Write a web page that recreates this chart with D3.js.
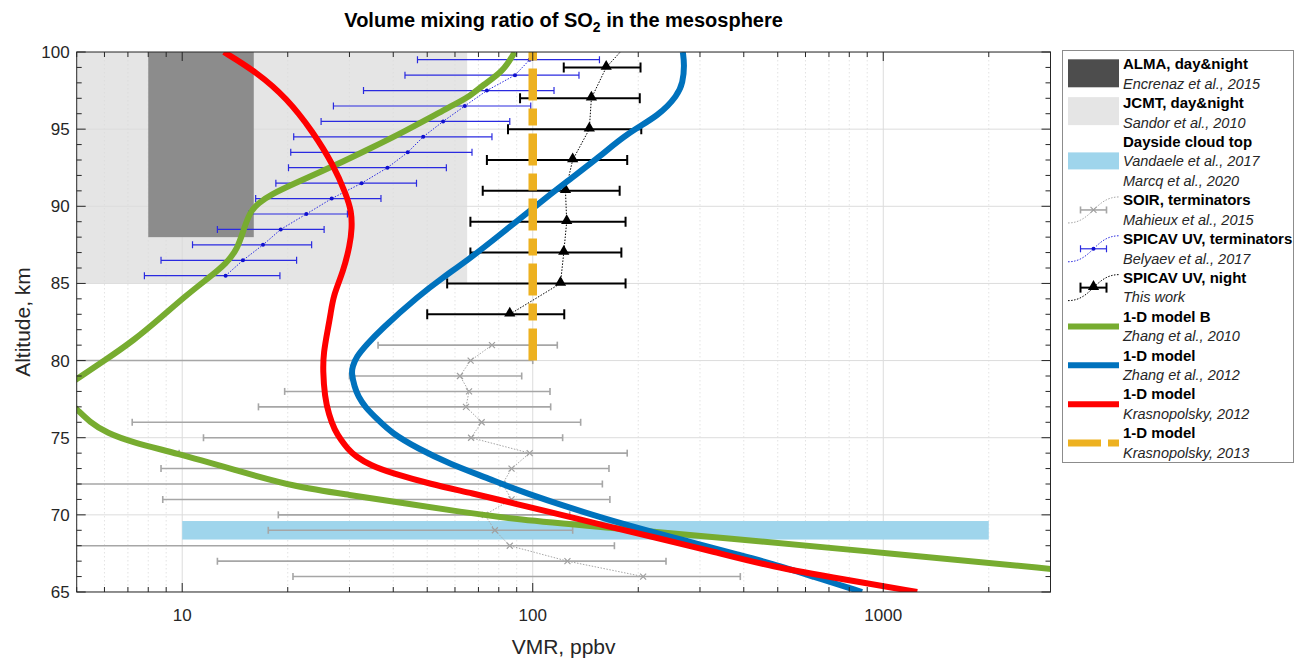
<!DOCTYPE html>
<html><head><meta charset="utf-8">
<script src="https://cdn.jsdelivr.net/npm/d3@7"></script>
<style>body{margin:0;background:#fff}svg{font-family:"Liberation Sans",Arial,Helvetica,sans-serif}</style>
</head><body><svg id="c" width="1303" height="659"></svg>
<script>
// ---------- data ----------
const xTicks = [10, 100, 1000];
const yTicks = [65, 70, 75, 80, 85, 90, 95, 100];

// SPICAV UV night (this work)
const nightAlt = [83, 85, 87, 89, 91, 93, 95, 97, 99, 101];
const nightVmr = [86, 120, 122.6, 125, 124, 130, 145, 147, 162, 195];
const nightLo  = [50, 57, 66.4, 66.4, 72, 74, 85, 92, 122.6, 150];
const nightHi  = [123, 184, 179, 184, 177, 186, 204, 202, 203, 260];

// SPICAV UV terminators (Belyaev et al., 2017)
const termAlt = [85.5, 86.5, 87.5, 88.5, 89.5, 90.5, 91.5, 92.5, 93.5, 94.5, 95.5, 96.5, 97.5, 98.5, 99.5];
const termVmr = [13.3, 14.9, 17.0, 19.1, 22.6, 26.7, 32.5, 38.5, 44, 48.7, 55.5, 64, 74, 89, 98];
const termLo  = [7.8, 8.7, 10.7, 12.6, 15.5, 16.2, 18.5, 20.1, 20.4, 20.8, 24.9, 27, 32.9, 43.2, 46.9];
const termHi  = [19.0, 21.2, 23.4, 25.4, 29.6, 36.9, 46.6, 56.7, 67.1, 76.5, 86, 98.7, 115, 135.5, 155];

// SOIR terminators (Mahieux et al., 2015)
const soirAlt = [66, 67, 68, 69, 70, 71, 72, 73, 74, 75, 76, 77, 78, 79, 80, 81];
const soirVmr = [206.5, 125.6, 86, 78, 73, 87, 82, 87, 98, 66.7, 71.5, 64.5, 65.8, 62, 66.5, 76.5];
const soirLo  = [20.7, 12.6, 3, 17.6, 18.8, 8.8, 3, 8.7, 9.8, 11.5, 7.2, 16.5, 19.6, 30, 3, 36.2];
const soirHi  = [391, 240, 171, 130, 127.5, 166, 158, 165, 186, 121.7, 137, 112.5, 112, 93, 100, 117.5];

// 1-D model B (Zhang et al., 2010)
const zh10Alt = [66.0, 66.5, 67.5, 68.5, 69.2, 69.7, 70.2, 70.75, 71.3, 71.8, 72.9, 74.0, 74.7, 75.3, 76.0, 76.86, 77.5, 77.9, 78.3, 78.8, 80.0, 81.3, 82.8, 84.25, 85.3, 86.3, 87.3, 88.35, 89.65, 90.2, 90.73, 91.5, 92.68, 93.7, 94.8, 96.45, 97.1, 97.86, 98.72, 100];
const zh10Vmr = [5000, 3000, 1050, 350, 160, 90, 62, 43, 30, 21, 14.2, 9.6, 7.2, 6.1, 5.45, 5.0, 4.65, 4.55, 4.65, 5.0, 6.0, 7.27, 8.7, 10.3, 11.8, 13.4, 14.4, 14.9, 15.6, 16.5, 17.8, 21, 27.5, 34, 42.7, 58, 66, 72, 82.3, 88.9];

// 1-D model (Zhang et al., 2012)
const zh12Alt = [65.0, 66.0, 66.86, 67.4, 68.15, 69.67, 71.6, 72.3, 73.3, 74.3, 75.3, 76.15, 77.0, 77.66, 78.3, 79.18, 79.6, 80.25, 81.0, 81.98, 84.25, 85.33, 86.6, 88.14, 89.87, 91.6, 93.2, 94.7, 95.9, 97.2, 98.0, 99.16, 100];
const zh12Vmr = [870, 630, 478, 388, 292, 162, 90, 76, 58, 47, 39.6, 36.2, 33.2, 31.8, 31.0, 30.4, 30.6, 31.4, 33.5, 36.7, 47.6, 55, 66, 80.5, 100, 125, 155, 185, 230, 259, 268, 271, 268];

// 1-D model (Krasnopolsky, 2012)
const kr12Alt = [65.0, 65.8, 66.65, 67.6, 68.6, 69.3, 70.0, 70.7, 71.4, 72.0, 72.7, 73.2, 73.77, 74.3, 74.85, 75.5, 76.5, 77.66, 79.35, 80.5, 81.98, 83.0, 84.25, 85.76, 87.5, 88.6, 89.65, 90.73, 92.68, 94.83, 97.0, 98.7, 100];
const kr12Vmr = [1250, 780, 477, 330, 218, 160, 121, 90, 67.2, 51, 39.6, 34.5, 31.3, 29.6, 28.4, 27.2, 26.2, 25.5, 25.2, 25.3, 26.0, 26.5, 27, 28.8, 30.1, 30.5, 30.4, 29.4, 27, 23.6, 19.9, 16.3, 13.15];

// 1-D model (Krasnopolsky, 2013)
const kr13Alt = [80, 100];
const kr13Vmr = [100, 100];

// observation ranges: [vmrMin, vmrMax, altMin, altMax]
const jcmtBox = [5, 65, 85, 100];
const almaBox = [8, 16, 88, 100];
const cloudBox = [10, 2000, 68.4, 69.6];

const legendLines = [
  ["ALMA, day&night", true], ["Encrenaz et al., 2015", false],
  ["JCMT, day&night", true], ["Sandor et al., 2010", false],
  ["Dayside cloud top", true], ["Vandaele et al., 2017", false],
  ["Marcq et al., 2020", false],
  ["SOIR, terminators", true], ["Mahieux et al., 2015", false],
  ["SPICAV UV, terminators", true], ["Belyaev et al., 2017", false],
  ["SPICAV UV, night", true], ["This work", false],
  ["1-D model B", true], ["Zhang et al., 2010", false],
  ["1-D model", true], ["Zhang et al., 2012", false],
  ["1-D model", true], ["Krasnopolsky, 2012", false],
  ["1-D model", true], ["Krasnopolsky, 2013", false]
];

// ---------- drawing ----------
const svg = d3.select("#c");
const L = 76.7, R = 1050.5, T = 52, B = 592;
const x = d3.scaleLog().domain([5, 3000]).range([L, R]);
const y = d3.scaleLinear().domain([65, 100]).range([B, T]);

const C = {green:"#77ac30", blue:"#0072bd", red:"#ff0000", orange:"#edb120", cloud:"#9fd5ec",
           jcmt:"#e5e5e5", alma:"#8c8c8c", almaLeg:"#4d4d4d", axis:"#262626", grid:"#dcdcdc"};

svg.append("defs").append("clipPath").attr("id","clip").append("rect")
  .attr("x", L).attr("y", T).attr("width", R-L).attr("height", B-T);

const plot = svg.append("g").attr("clip-path","url(#clip)");

function box(g, b, fill){
  g.append("rect").attr("x", x(b[0])).attr("y", y(b[3]))
   .attr("width", x(b[1]) - x(b[0])).attr("height", y(b[2]) - y(b[3])).attr("fill", fill);
}
box(plot, jcmtBox, C.jcmt);

// grid
const minorX = [];
[1,10,100,1000].forEach(d => { for (let k=2;k<=9;k++){ const v=d*k; if (v>=5 && v<=3000 && ![10,100,1000].includes(v)) minorX.push(v);} });
plot.selectAll(".gmx").data(minorX).enter().append("line")
  .attr("x1", d=>x(d)).attr("x2", d=>x(d)).attr("y1", T).attr("y2", B)
  .attr("stroke", C.grid).attr("stroke-width", 0.8).attr("stroke-dasharray", "1.5,2.5");
plot.selectAll(".gX").data(xTicks).enter().append("line")
  .attr("x1", d=>x(d)).attr("x2", d=>x(d)).attr("y1", T).attr("y2", B)
  .attr("stroke", C.grid).attr("stroke-width", 1);
plot.selectAll(".gY").data(yTicks).enter().append("line")
  .attr("x1", L).attr("x2", R).attr("y1", d=>y(d)).attr("y2", d=>y(d))
  .attr("stroke", C.grid).attr("stroke-width", 1);

box(plot, almaBox, C.alma);
box(plot, cloudBox, C.cloud);

// error-bar series helper
function series(alt, v, lo, hi, o){
  const g = plot.append("g");
  const pts = alt.map((a,i)=>({a, v:v[i], lo:lo[i], hi:hi[i]}));
  g.append("path").datum(pts)
    .attr("d", d3.line().x(d=>x(d.v)).y(d=>y(d.a)))
    .attr("fill","none").attr("stroke", o.lineColor).attr("stroke-width", o.lw)
    .attr("stroke-dasharray", o.dash);
  pts.forEach(d=>{
    g.append("line").attr("x1", x(d.lo)).attr("x2", x(d.hi)).attr("y1", y(d.a)).attr("y2", y(d.a))
      .attr("stroke", o.color).attr("stroke-width", o.ew);
    [d.lo, d.hi].forEach(e=> g.append("line").attr("x1", x(e)).attr("x2", x(e))
      .attr("y1", y(d.a)-o.cap).attr("y2", y(d.a)+o.cap).attr("stroke", o.color).attr("stroke-width", o.ew));
    o.marker(g, x(d.v), y(d.a));
  });
}
const xMark = (col)=> (g,cx,cy)=> g.append("path")
  .attr("d", `M${cx-3},${cy-3}L${cx+3},${cy+3}M${cx-3},${cy+3}L${cx+3},${cy-3}`)
  .attr("stroke", col).attr("stroke-width", 1.2).attr("fill","none");
const dotMark = (col)=> (g,cx,cy)=> g.append("circle").attr("cx",cx).attr("cy",cy).attr("r",2).attr("fill",col);
const triMark = (g,cx,cy)=> g.append("path").attr("transform",`translate(${cx},${cy-1})`)
  .attr("d", d3.symbol(d3.symbolTriangle, 55)()).attr("fill","#000");

series(soirAlt, soirVmr, soirLo, soirHi, {color:"#a6a6a6", lineColor:"#a6a6a6", lw:1, dash:"1.5,1.5", ew:1.6, cap:3.5, marker:xMark("#a0a0a0")});
series(termAlt, termVmr, termLo, termHi, {color:"#2a2ae0", lineColor:"#2a2ae0", lw:1, dash:"1.5,1.5", ew:1.2, cap:3.5, marker:dotMark("#1010d0")});
series(nightAlt, nightVmr, nightLo, nightHi, {color:"#000", lineColor:"#000", lw:1, dash:"1.5,1.5", ew:2, cap:5, marker:triMark});

// model curves
function model(alt, v, col, w, dash){
  const pts = alt.map((a,i)=>({a, v:v[i]}));
  plot.append("path").datum(pts)
    .attr("d", d3.line().x(d=>x(d.v)).y(d=>y(d.a)).curve(d3.curveBasis))
    .attr("fill","none").attr("stroke", col).attr("stroke-width", w)
    .attr("stroke-dasharray", dash || null);
}
model(zh10Alt, zh10Vmr, C.green, 6);
model(zh12Alt, zh12Vmr, C.blue, 6);
model(kr12Alt, kr12Vmr, C.red, 6);
model(kr13Alt, kr13Vmr, C.orange, 8.5, "32,8,17,8");

// axes frame & ticks
const ax = svg.append("g").attr("stroke", C.axis).attr("stroke-width", 1);
ax.append("rect").attr("x", L).attr("y", T).attr("width", R-L).attr("height", B-T).attr("fill","none");
const minorY = d3.range(65, 101, 1).filter(d=> d%5 !== 0);
minorX.forEach(v=>{ ax.append("line").attr("x1",x(v)).attr("x2",x(v)).attr("y1",B).attr("y2",B-5);
                    ax.append("line").attr("x1",x(v)).attr("x2",x(v)).attr("y1",T).attr("y2",T+5); });
xTicks.forEach(v=>{ ax.append("line").attr("x1",x(v)).attr("x2",x(v)).attr("y1",B).attr("y2",B-9);
                    ax.append("line").attr("x1",x(v)).attr("x2",x(v)).attr("y1",T).attr("y2",T+9); });
minorY.forEach(v=>{ ax.append("line").attr("x1",L).attr("x2",L+5).attr("y1",y(v)).attr("y2",y(v));
                    ax.append("line").attr("x1",R).attr("x2",R-5).attr("y1",y(v)).attr("y2",y(v)); });
yTicks.forEach(v=>{ ax.append("line").attr("x1",L).attr("x2",L+9).attr("y1",y(v)).attr("y2",y(v));
                    ax.append("line").attr("x1",R).attr("x2",R-9).attr("y1",y(v)).attr("y2",y(v)); });

// tick labels
svg.selectAll(".xl").data(xTicks).enter().append("text")
  .attr("x", d=>x(d)).attr("y", B+29).attr("text-anchor","middle")
  .attr("font-size", 17).attr("fill","#262626").text(d=>d);
svg.selectAll(".yl").data(yTicks).enter().append("text")
  .attr("x", L-7).attr("y", d=>y(d)+6).attr("text-anchor","end")
  .attr("font-size", 17).attr("fill","#262626").text(d=>d);

// axis labels & title
svg.append("text").attr("x", (L+R)/2).attr("y", 654).attr("text-anchor","middle")
  .attr("font-size", 21).attr("fill","#262626").text("VMR, ppbv");
svg.append("text").attr("transform", `translate(30,${(T+B)/2}) rotate(-90)`).attr("text-anchor","middle")
  .attr("font-size", 21).attr("fill","#262626").text("Altitude, km");
const tt = svg.append("text").attr("x", (L+R)/2).attr("y", 27).attr("text-anchor","middle")
  .attr("font-size", 20).attr("font-weight","bold").attr("fill","#000");
tt.append("tspan").text("Volume mixing ratio of SO");
tt.append("tspan").attr("dy", 5).attr("font-size", 14).text("2");
tt.append("tspan").attr("dy", -5).text(" in the mesosphere");

// legend
const lg = svg.append("g");
lg.append("rect").attr("x",1062.5).attr("y",50.5).attr("width",231).attr("height",412)
  .attr("fill","#fff").attr("stroke","#8c8c8c").attr("stroke-width",1);
const ly = i => 64.3 + i*19.42;
legendLines.forEach((d,i)=>{
  lg.append("text").attr("x",1123).attr("y", ly(i)+5).attr("font-size", d[1] ? 15 : 14.5)
    .attr("font-weight", d[1] ? "bold" : "normal").attr("font-style", d[1] ? "normal" : "italic")
    .attr("fill", d[1] ? "#000" : "#262626").text(d[0]);
});
const sx0 = 1068, sx1 = 1119;
lg.append("rect").attr("x",sx0).attr("y",ly(0)-5).attr("width",sx1-sx0).attr("height",28).attr("fill",C.almaLeg);
lg.append("rect").attr("x",sx0).attr("y",ly(2)-6).attr("width",sx1-sx0).attr("height",28).attr("fill",C.jcmt);
lg.append("rect").attr("x",sx0).attr("y",ly(5)-9).attr("width",sx1-sx0).attr("height",17).attr("fill",C.cloud);
function legErr(cy, col, lw, cap, marker, ew){
  lg.append("path").attr("d",`M${sx0},${cy+13}C${sx0+24},${cy+13} ${sx1-24},${cy-13} ${sx1},${cy-13}`)
    .attr("fill","none").attr("stroke",col).attr("stroke-width",lw).attr("stroke-dasharray","1.5,1.5");
  const cx = (sx0+sx1)/2;
  lg.append("line").attr("x1",cx-13).attr("x2",cx+13).attr("y1",cy).attr("y2",cy).attr("stroke",col).attr("stroke-width",ew);
  [cx-13,cx+13].forEach(e=>lg.append("line").attr("x1",e).attr("x2",e).attr("y1",cy-cap).attr("y2",cy+cap).attr("stroke",col).attr("stroke-width",ew));
  marker(lg, cx, cy);
}
legErr((ly(7)+ly(8))/2, "#a6a6a6", 1, 3.5, xMark("#a0a0a0"), 1.6);
legErr((ly(9)+ly(10))/2, "#2a2ae0", 1, 3.5, dotMark("#1010d0"), 1.2);
legErr((ly(11)+ly(12))/2, "#000", 1, 5, triMark, 2);
[[13,C.green],[15,C.blue],[17,C.red]].forEach(([i,c])=>{
  const cy=(ly(i)+ly(i+1))/2;
  lg.append("line").attr("x1",sx0).attr("x2",sx1).attr("y1",cy).attr("y2",cy).attr("stroke",c).attr("stroke-width",6);
});
{ const cy=(ly(19)+ly(20))/2;
  lg.append("line").attr("x1",sx0).attr("x2",sx1).attr("y1",cy).attr("y2",cy).attr("stroke",C.orange)
    .attr("stroke-width",7).attr("stroke-dasharray","33,7,17,7"); }
</script></body></html>
